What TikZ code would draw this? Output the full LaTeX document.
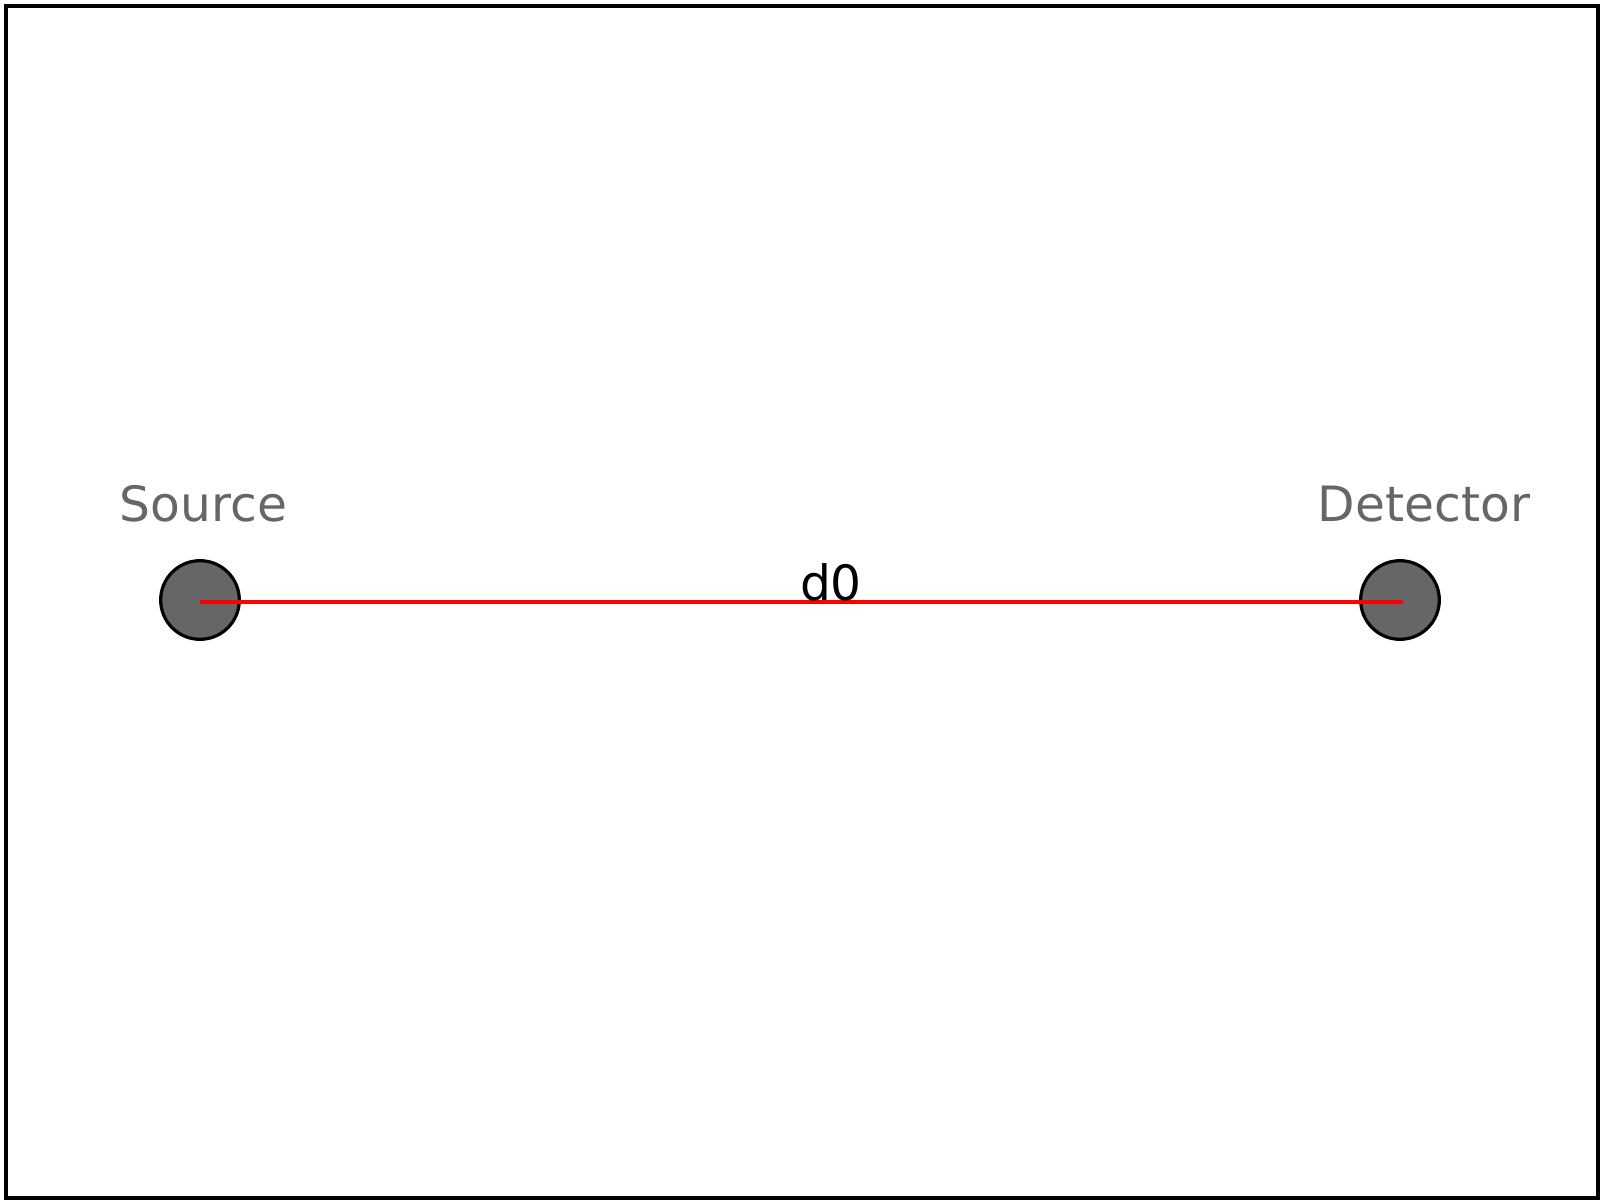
\documentclass[tikz,border=0pt]{standalone}
\usepackage{fontspec}
\setmainfont{DejaVu Sans}
\begin{document}
\begin{tikzpicture}[x=0.75pt,y=-0.75pt,
  dev/.style={circle,draw=black,line width=2.4pt,fill=devgray,minimum size=59pt,inner sep=0pt},
  lab/.style={text=labgray,font=\fontsize{36.5}{44}\selectfont,anchor=base,inner sep=0pt},
  dist/.style={text=black,font=\fontsize{36.5}{44}\selectfont,anchor=base,inner sep=0pt},
  ray/.style={draw=red,line width=3pt}]
\definecolor{devgray}{HTML}{666666}
\definecolor{labgray}{HTML}{666666}
\useasboundingbox (0,0) rectangle (1600,1200);
\coordinate (f1) at (5.75,5.75);
\coordinate (f2) at (1597.75,1197.75);
\draw[black,line width=3pt] (f1) rectangle (f2);
\node[dev] (src) at (200,600) {};
\node[dev] (det) at (1400,600) {};
\coordinate (a) at (200,601.5);
\coordinate (b) at (1403,601.5);
\draw[ray] (a) -- (b);
\node[lab] (srclab) at (203.5,521) {Source};
\node[lab] (detlab) at (1424,521) {Detector};
\node[dist] (d0) at (831,600) {d0};
\end{tikzpicture}
\end{document}
